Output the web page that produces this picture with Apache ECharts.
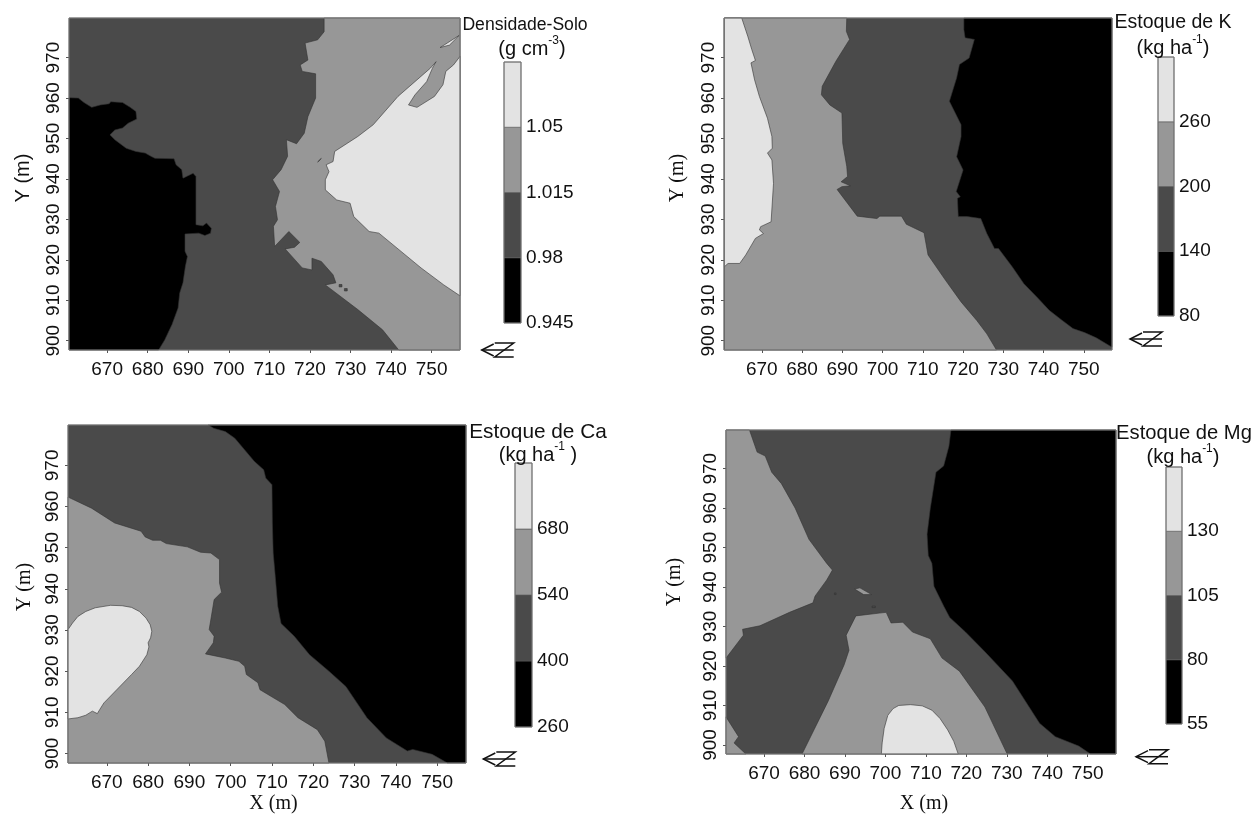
<!DOCTYPE html>
<html><head><meta charset="utf-8">
<style>html,body{margin:0;padding:0;background:#fff}#c{width:1254px;height:815px}</style>
<script src="https://cdn.jsdelivr.net/npm/echarts@6/dist/echarts.min.js"></script>
</head><body><div id="c"></div>
<script>
const xTicks=[670,680,690,700,710,720,730,740,750];
const yTicks=[900,910,920,930,940,950,960,970];
const xExtent=[660.6,757];
const yExtent=[897.7,979.8];
const fullArea=[[660.6,979.8],[757,979.8],[757,897.7],[660.6,897.7]];

const soilBreaks=[0.945,0.98,1.015,1.05,1.085];
const kBreaks=[80,140,200,260,320];
const caBreaks=[260,400,540,680,820];
const mgBreaks=[55,80,105,130,155];

const soilBlack=[[660.6,960.1],[662.9,960],[664.3,958.9],[666.2,957.7],[668.3,958.3],[670.5,958.6],[670.9,959.1],[673.8,958.9],[675.7,957.7],[677.1,956.7],[677.3,954.8],[675.2,953.8],[673.8,952.6],[671.9,952.1],[670.7,950.9],[671.9,949.7],[674.7,947.6],[677.1,946.8],[679.4,946.4],[680.8,945.6],[681.8,945.1],[686.5,945],[687,943.5],[688.4,942.3],[688.7,940.2],[691.2,941.4],[691.9,940.6],[691.9,928.7],[693.6,928.4],[694.5,929.1],[695.7,927.8],[695.5,926.6],[694.1,926],[692.6,926.6],[689.2,926.4],[689.2,922.1],[689.8,920.8],[689.3,918.4],[688.7,914.3],[687.9,911.8],[687.5,908.1],[686,904],[684.2,900.2],[682.7,897.7],[660.6,897.7]];
const soilMid=[[723.5,979.8],[723.5,976.4],[721.9,974.4],[718.8,973.6],[719.5,969.4],[717.6,968.2],[718.1,966.6],[721.4,966],[721.4,960],[719.5,955.4],[718.6,951.3],[716.7,948.7],[714.2,949.7],[714.5,945.6],[712.9,942.3],[710.8,939.8],[712.5,936.9],[711.5,933.2],[712,929.9],[711,928.3],[711.3,923.3],[714.8,927],[717.5,924.3],[716.2,923.1],[713.9,922.7],[718.1,918],[720.5,917.5],[720.5,920.4],[722.8,919.6],[725.7,916.3],[726.4,914.3],[723.8,913.8],[731.8,907.7],[737.9,902.7],[741.9,897.7],[757,897.7],[757,979.8]];
const soilLight=[[757,970.3],[755.4,968.2],[753.5,966.6],[752.8,963.3],[750.7,960.4],[746.4,957.7],[744.3,958.3],[745.9,960.8],[748.8,964.1],[750.2,967.4],[751.1,969],[749.7,967.4],[741.7,960.4],[735.6,953.4],[731.8,950.5],[726.1,946.8],[725.7,944.3],[724,943.5],[724.7,941.8],[723.8,939.8],[723.8,937.3],[726.6,934.8],[729.9,934],[730.8,930.7],[734.6,927],[737,926.6],[747.4,918],[753,913.8],[757,911.1]];
const soilSliver=[[752.1,972.5],[754,973.7],[756.8,975.5],[754.4,973.1]];
const soilSpeckA=[[727.2,913.9],[727.9,913.9],[727.9,913.3],[727.2,913.3]];
const soilSpeckB=[[728.5,912.9],[729.2,912.9],[729.2,912.3],[728.5,912.3]];
const soilSpeckC=[[721.9,944.2],[722.8,945.1],[722.3,944.5]];

const kLight=[[660.7,979.8],[665,979.8],[666.5,975.3],[667.5,972],[668.4,969.3],[667.3,968.7],[668.2,964.5],[669.4,960.4],[671.4,955],[672.5,950.5],[672.6,947.6],[671.4,946.4],[672.5,944.7],[672.9,938.9],[672.3,929.4],[669.7,928.2],[669.4,927.4],[670.4,926.5],[668.4,925.3],[666,921.2],[664.5,919.1],[661.6,919.1],[660.7,918.3]];
const kMid=[[660.7,979.8],[691.1,979.8],[691,976.5],[691.8,974.5],[688.4,969.1],[685,962.9],[684.8,960.8],[686.9,958.3],[689.9,956.3],[690.1,948.8],[691.1,943.1],[691.3,940.6],[689.7,939.3],[692,938.3],[689.9,938.1],[688.7,937.4],[693.7,930.8],[698.6,930.2],[699.3,930.8],[704.7,930.8],[705.9,928.8],[710.3,926.7],[711.3,921.2],[715.6,915],[719.5,909.6],[723.4,905],[725.9,901.7],[728.3,897.7],[660.7,897.7]];
const kBlack=[[720.2,979.8],[757,979.8],[757,898.4],[753.1,900.7],[750.2,902],[747.3,903],[744.4,905.2],[741.4,907.5],[738.5,910.6],[735.1,914.1],[732.2,918.3],[728.8,922.8],[727.8,922.8],[725.9,926.5],[724.4,930.2],[721,930.7],[718.8,930.7],[718.6,935.2],[719.3,935.6],[718.3,936.9],[720,942.2],[718.4,945.5],[719.5,950.5],[719.5,953.4],[716.6,959.2],[718.4,965],[719.1,968.3],[721.5,969.9],[722.8,974.5],[720.5,974.9],[720.2,976.9]];

const caBlack=[[694.6,979.8],[757,979.8],[757,897.7],[752.5,897.7],[748.8,899.8],[744.1,901],[742.8,900.6],[737.7,903.8],[733,908.7],[727.9,916.3],[723.8,920],[719.1,924],[715.4,928.5],[712.2,931.6],[711.4,935.8],[710.8,943],[710.3,948.7],[710.1,956],[710,965.3],[708.5,966.9],[708,968.9],[705.7,971],[701,976.6],[698.7,978.2],[695.9,979]];
const caMid=[[660.6,962.3],[666.3,959.6],[671.9,956],[678.3,954],[679.3,952.6],[681.1,951.8],[683,951.8],[684.4,951],[689.5,950.2],[692.7,948.9],[695.2,948.7],[697.3,947.1],[697.3,941.4],[697.8,939.2],[696,937.4],[694.8,930.1],[696,928.5],[695.8,926.9],[693.9,924.2],[698.7,923.2],[702,922.4],[703.4,921.2],[703.8,919.2],[706.6,917.2],[707.1,915.5],[713.1,911.9],[716.3,908.7],[721,905.8],[722.8,903],[723.8,897.7],[660.6,897.7]];
const caLight=[[660.6,930.1],[661.7,931.7],[663,933.3],[664.9,934.5],[667.2,935.4],[670.9,936],[673.7,935.9],[676,935.5],[677.9,934.5],[679.5,932.9],[680.5,931.3],[680.9,929.7],[680.6,928.1],[680,926.9],[680.2,925.9],[679.7,924],[677.9,921.2],[676,919.2],[672.8,915.9],[669.3,912.3],[668.3,910.7],[667.7,909.7],[666.5,910.3],[664.9,909.3],[663,908.7],[660.6,908.4]];

const mgBlack=[[716.2,979.8],[757,979.8],[757,897.7],[750.7,897.7],[747.8,899.7],[742,902.1],[738.1,905.5],[731.4,916.2],[724.6,923.6],[719.8,928.6],[715.9,932.3],[714.4,935.2],[712,940.2],[711.5,946],[710.6,948],[710.3,953.4],[711.1,960],[712.5,969.1],[714.4,970.7],[715.7,975.7]];
const mgMidLeft=[[660.6,979.8],[666.4,979.8],[668.3,974.2],[670.3,973.2],[671.9,969.1],[674.3,966.2],[677.7,960],[681.1,952.1],[685.5,946],[686.9,944.3],[685.5,941.8],[682.6,937.7],[682.1,936],[676.3,933.6],[669,930.2],[664.7,929.3],[664.9,927.8],[661.8,923.6],[660.6,922]];
const mgMidLow=[[679.4,897.7],[685.9,911.2],[689.8,920.3],[691,924],[690.3,927.8],[692.7,932.7],[698.5,933.4],[700.2,933.6],[701.4,930.9],[704.3,931.1],[706.7,928.6],[711.1,926.9],[714,922],[718.3,918.7],[724.6,909.6],[730.1,897.7]];
const mgMidCorner=[[660.6,907.1],[663.7,902.1],[662.6,900.5],[665.5,897.7],[660.6,897.7]];
const mgLight=[[699,897.7],[699.2,900.5],[699.7,904.2],[700.6,907.5],[701.9,909.2],[703.3,910],[706.2,910.2],[709.1,909.9],[711.5,908.8],[713.5,906.7],[715.4,903.8],[716.9,900.9],[718,897.7]];
const mgIsland=[[692.4,939.5],[693.7,939.8],[696.6,938.1],[694.6,938.1]];
const mgSpeckA=[[687.4,938.5],[687.8,938.5],[687.8,938.1],[687.4,938.1]];
const mgSpeckB=[[696.7,935.2],[697.5,935.2],[697.5,934.8],[696.7,934.8]];

const BLACK='#000000',DARK='#4a4a4a',MID='#979797',LIGHT='#e3e3e3';
const SANS='"Liberation Sans", Arial, sans-serif',SERIF='"Liberation Serif", "Times New Roman", serif';

const panels=[
 {grid:[69,18,391,332],bar:[504,62,17,261],breaks:soilBreaks,
  layers:[[fullArea,DARK],[soilBlack,BLACK],[soilMid,MID],[soilLight,LIGHT],[soilSliver,LIGHT],[soilSpeckA,DARK],[soilSpeckB,DARK],[soilSpeckC,DARK]],
  yName:{font:SANS,gap:36,pad:12},labelGap:10},
 {grid:[724,18,388,332],bar:[1158,57,16,259],breaks:kBreaks,
  layers:[[fullArea,DARK],[kMid,MID],[kLight,LIGHT],[kBlack,BLACK]],
  yName:{font:SERIF,gap:36,pad:12},labelGap:10},
 {grid:[68,425,398,338],bar:[515,463,17,264],breaks:caBreaks,
  layers:[[fullArea,DARK],[caBlack,BLACK],[caMid,MID],[caLight,LIGHT]],
  yName:{font:SERIF,gap:33,pad:14},xName:{gap:31,pad:13},labelGap:10},
 {grid:[726,430,390,331],bar:[1166,467,16,257],breaks:mgBreaks,
  layers:[[fullArea,DARK],[mgBlack,BLACK],[mgMidLeft,MID],[mgMidLow,MID],[mgMidCorner,MID],[mgLight,LIGHT],[mgIsland,MID],[mgSpeckA,DARK],[mgSpeckB,DARK]],
  yName:{font:SERIF,gap:41,pad:20},xName:{gap:40,pad:6},labelGap:10}
];
const bandColors=[BLACK,DARK,MID,LIGHT];

const grids=[],xAxes=[],yAxes=[],series=[];
function polygon(points,color,idx){
  series.push({type:'custom',xAxisIndex:idx,yAxisIndex:idx,coordinateSystem:'cartesian2d',z:2,silent:true,
    encode:{x:0,y:1},data:points,
    renderItem(params,api){
      if(params.dataIndex!==0) return null;
      return {type:'polygon',shape:{points:points.map(p=>api.coord(p))},
        style:{fill:color,stroke:'#333333',lineWidth:0.6}};
    }});
}
panels.forEach(p=>{
  const idx=grids.length;
  grids.push({left:p.grid[0],top:p.grid[1],width:p.grid[2],height:p.grid[3],show:true,z:5,
    backgroundColor:'transparent',borderColor:'#808080',borderWidth:1});
  xAxes.push({type:'value',gridIndex:idx,min:xExtent[0],max:xExtent[1],position:'bottom',
    name:p.xName?'X (m)':'',nameLocation:'middle',nameGap:p.xName?p.xName.gap:0,
    nameTextStyle:{fontFamily:SERIF,fontSize:20,color:'#111',padding:p.xName?[0,0,0,p.xName.pad]:0},
    axisLine:{show:false,onZero:false},splitLine:{show:false},
    axisTick:{show:true,length:3,customValues:xTicks,lineStyle:{color:'#555'}},
    axisLabel:{customValues:xTicks,margin:p.labelGap,fontFamily:SANS,fontSize:19,color:'#111',hideOverlap:false}});
  yAxes.push({type:'value',gridIndex:idx,min:yExtent[0],max:yExtent[1],position:'left',
    name:'Y (m)',nameLocation:'middle',nameGap:p.yName.gap,
    nameTextStyle:{fontFamily:p.yName.font,fontSize:20,color:'#111',padding:[0,0,0,p.yName.pad]},
    axisLine:{show:false,onZero:false},splitLine:{show:false},
    axisTick:{show:true,length:3,customValues:yTicks,lineStyle:{color:'#555'}},
    axisLabel:{customValues:yTicks,rotate:90,margin:6,fontFamily:SANS,fontSize:19,color:'#111',hideOverlap:false}});
  p.layers.forEach(l=>polygon(l[0],l[1],idx));
});
panels.forEach(p=>{
  const idx=grids.length, b=p.breaks;
  grids.push({left:p.bar[0],top:p.bar[1],width:p.bar[2],height:p.bar[3],show:true,z:5,
    backgroundColor:'transparent',borderColor:'#777',borderWidth:1});
  xAxes.push({type:'value',gridIndex:idx,min:0,max:1,show:false});
  yAxes.push({type:'value',gridIndex:idx,min:b[0],max:b[b.length-1],position:'right',
    axisLine:{show:false},axisTick:{show:false},splitLine:{show:false},
    axisLabel:{customValues:b.slice(0,4),margin:5,fontFamily:SANS,fontSize:19,color:'#111',hideOverlap:false,formatter:v=>String(v)}});
  const bands=b.slice(0,4).map((v,i)=>[0,v,1,b[i+1]]);
  series.push({type:'custom',xAxisIndex:idx,yAxisIndex:idx,coordinateSystem:'cartesian2d',z:2,silent:true,
    encode:{x:[0,2],y:[1,3]},data:bands,
    renderItem(params,api){
      const a=api.coord([api.value(0),api.value(1)]),c=api.coord([api.value(2),api.value(3)]);
      return {type:'rect',shape:{x:a[0],y:c[1],width:c[0]-a[0],height:a[1]-c[1]},
        style:{fill:bandColors[params.dataIndex],stroke:'#555',lineWidth:0.6}};
    }});
});

function titleText(text,x,y,size,rich){
  return {type:'text',x:x,y:y,z:20,silent:true,style:{text:text,rich:rich,align:'center',verticalAlign:'middle',
    fontFamily:SANS,fontSize:size,fill:'#111'}};
}
const unitRich={a:{fontFamily:SANS,fontSize:20,fill:'#111',lineHeight:24,verticalAlign:'bottom'},
  s:{fontFamily:SANS,fontSize:12,fill:'#111',lineHeight:24,verticalAlign:'top',padding:[0,0,6,0]}};
function north(x,y){
  const s={stroke:'#111',lineWidth:1.5,fill:null};
  const pl=pts=>({type:'polyline',shape:{points:pts},style:s,silent:true});
  return {type:'group',x:x,y:y,z:20,silent:true,children:[
    pl([[12,-6],[0,0],[12,6]]),pl([[0,0],[32,0]]),pl([[13,-7],[32,-7],[13,7],[32,7]])]};
}
const graphics=[
 titleText('Densidade-Solo',525,25,17.6),titleText('{a|(g cm}{s|-3}{a|)}',532,47,20,unitRich),
 titleText('Estoque de K',1173,23,19.5),titleText('{a|(kg ha}{s|-1}{a|)}',1173,46,20,unitRich),
 titleText('Estoque de Ca',538,432,20.8),titleText('{a|(kg ha}{s|-1}{a| )}',538,453,20,unitRich),
 titleText('Estoque de Mg',1184,433,20.2),titleText('{a|(kg ha}{s|-1}{a|)}',1183,455,20,unitRich),
 north(481.7,350),north(1130,339),north(483.3,759),north(1136,756.7)
];

const chart=echarts.init(document.getElementById('c'),null,{renderer:'canvas'});
chart.setOption({animation:false,backgroundColor:'#fff',grid:grids,xAxis:xAxes,yAxis:yAxes,series:series,graphic:graphics});
</script></body></html>
